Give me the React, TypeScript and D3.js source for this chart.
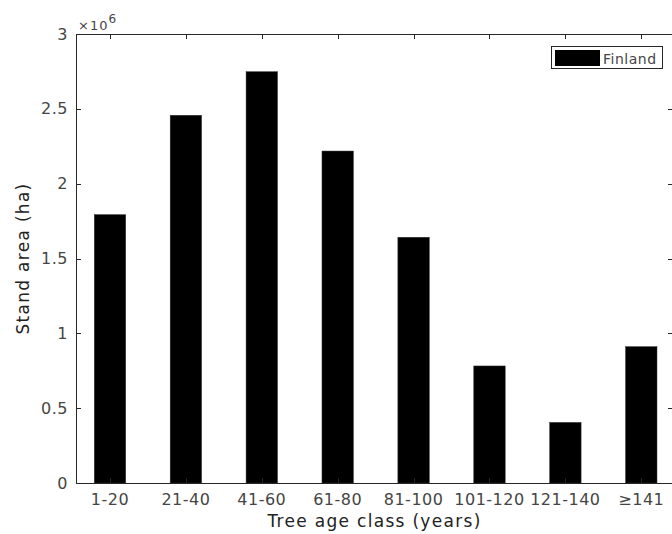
import React, { useEffect, useRef } from 'react';
import * as d3 from 'd3';

const categories = ['1-20', '21-40', '41-60', '61-80', '81-100', '101-120', '121-140', '\u2265141'];
const standArea = [1.793e6, 2.457e6, 2.748e6, 2.218e6, 1.642e6, 0.782e6, 0.405e6, 0.911e6];
const yTicks = [0, 0.5e6, 1e6, 1.5e6, 2e6, 2.5e6, 3e6];
const yTickLabels = ['0', '0.5', '1', '1.5', '2', '2.5', '3'];
const seriesName = 'Finland';

const W = 672;
const H = 534;
const axisColor = '#262626';
const tickText = '#454545';
const font = 'DejaVu Sans, sans-serif';

export default function App() {
  const ref = useRef<SVGSVGElement | null>(null);

  useEffect(() => {
    const svg = d3.select(ref.current);
    svg.selectAll('*').remove();

    const left = 76, right = 673, top = 34, bottom = 483;

    const x = d3.scaleLinear().domain([0.552, 8.418]).range([left, right]);
    const y = d3.scaleLinear().domain([0, 3e6]).range([bottom, top]);
    const barW = 0.414;

    // bars
    svg.append('g')
      .selectAll('rect')
      .data(standArea)
      .join('rect')
      .attr('x', (_, i) => x(i + 1 - barW / 2))
      .attr('width', x(1 + barW) - x(1))
      .attr('y', d => y(d))
      .attr('height', d => bottom - y(d))
      .attr('fill', '#000')
      .attr('stroke', '#333')
      .attr('stroke-width', 0.5);

    const g = svg.append('g').attr('stroke', axisColor).attr('fill', 'none');
    const tl = 5;

    // axis box
    g.append('line').attr('x1', left + 0.5).attr('x2', left + 0.5).attr('y1', top).attr('y2', bottom + 0.5);
    g.append('line').attr('x1', left).attr('x2', right).attr('y1', bottom + 0.5).attr('y2', bottom + 0.5);
    g.append('line').attr('x1', left).attr('x2', right).attr('y1', top + 0.5).attr('y2', top + 0.5);
    g.append('line').attr('x1', right - 0.5).attr('x2', right - 0.5).attr('y1', top).attr('y2', bottom);

    // y ticks (left & right)
    yTicks.forEach(t => {
      const yy = Math.round(y(t)) + 0.5;
      g.append('line').attr('x1', left).attr('x2', left + tl).attr('y1', yy).attr('y2', yy);
      g.append('line').attr('x1', right - tl).attr('x2', right).attr('y1', yy).attr('y2', yy);
    });
    // x ticks (top & bottom)
    categories.forEach((_, i) => {
      const xx = Math.round(x(i + 1)) + 0.5;
      g.append('line').attr('x1', xx).attr('x2', xx).attr('y1', top).attr('y2', top + tl);
      g.append('line').attr('x1', xx).attr('x2', xx).attr('y1', bottom - tl).attr('y2', bottom);
    });

    const txt = svg.append('g').attr('font-family', font).attr('fill', tickText);

    // y tick labels
    txt.selectAll('text.yl')
      .data(yTicks)
      .join('text')
      .attr('x', left - 8)
      .attr('y', d => y(d))
      .attr('dy', '0.35em')
      .attr('text-anchor', 'end')
      .attr('font-size', 16)
      .attr('letter-spacing', 0.5)
      .text((_, i) => yTickLabels[i]);

    // x tick labels
    txt.selectAll('text.xl')
      .data(categories)
      .join('text')
      .attr('x', (_, i) => x(i + 1))
      .attr('y', 505)
      .attr('text-anchor', 'middle')
      .attr('font-size', 16)
      .attr('letter-spacing', 0.5)
      .text(d => d);

    // exponent
    const ex = txt.append('text').attr('x', 78).attr('y', 30).attr('font-size', 13).attr('letter-spacing', 1);
    ex.append('tspan').text('\u00d710');
    ex.append('tspan').attr('font-size', 12).attr('dy', -7).text('6');

    // axis labels
    txt.append('text')
      .attr('x', (left + right) / 2)
      .attr('y', 527)
      .attr('text-anchor', 'middle')
      .attr('font-size', 17)
      .attr('letter-spacing', 1.3)
      .attr('fill', '#222')
      .text('Tree age class (years)');

    txt.append('text')
      .attr('transform', `translate(29,${(top + bottom) / 2}) rotate(-90)`)
      .attr('text-anchor', 'middle')
      .attr('font-size', 17)
      .attr('letter-spacing', 1.3)
      .attr('fill', '#222')
      .text('Stand area (ha)');

    // legend
    const lg = svg.append('g');
    lg.append('rect').attr('x', 551.5).attr('y', 46.5).attr('width', 111).attr('height', 22)
      .attr('fill', '#fff').attr('stroke', axisColor).attr('stroke-width', 1);
    lg.append('rect').attr('x', 555).attr('y', 50).attr('width', 45).attr('height', 16).attr('fill', '#000');
    lg.append('text').attr('x', 603).attr('y', 63.5).attr('font-family', font).attr('font-size', 14)
      .attr('letter-spacing', 0.5).attr('fill', tickText).text(seriesName);
  }, []);

  return (
    <>
      <style>{'body{margin:0}'}</style>
      <svg ref={ref} width={W} height={H} style={{ display: 'block', background: '#fff' }} />
    </>
  );
}
